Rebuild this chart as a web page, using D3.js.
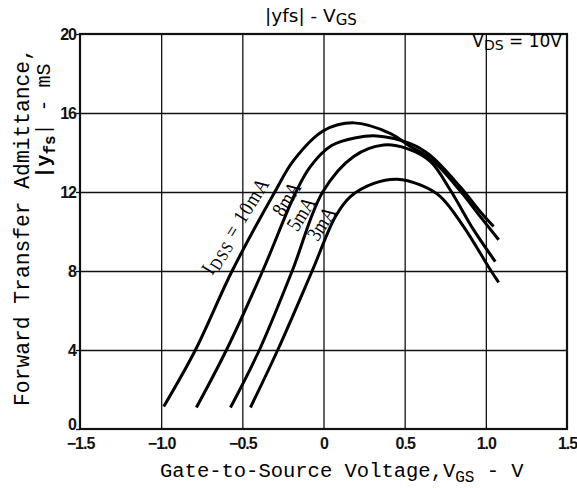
<!DOCTYPE html>
<html>
<head>
<meta charset="utf-8">
<script src="https://cdn.jsdelivr.net/npm/d3@7"></script>
<style>
  body { margin: 0; background: #fff; }
  svg { display: block; }
  .grid line { stroke: #111; stroke-width: 1.3; }
  .grid path { display: none; }
  .ticks path { display: none; }
  .ticks line { stroke: #111; stroke-width: 1.3; }
  .ticks text { font-family: "Liberation Sans", sans-serif; font-weight: bold; font-size: 16px; fill: #111; letter-spacing: -1px; }
</style>
</head>
<body>
<div id="chart"></div>
<script>
// valores dos eixos
const xTicks = [-1.5, -1.0, -0.5, 0, 0.5, 1.0, 1.5];
const xTickLabels = ["\u22121.5", "\u22121.0", "\u22120.5", "0", "0.5", "1.0", "1.5"];
const yTicks = [0, 4, 8, 12, 16, 20];
const curveNames = ["10mA", "8mA", "5mA", "3mA"];

// [VGS (V), |yfs| (mS)]
const idss10 = [[-0.984, 1.14], [-0.789, 4.0], [-0.563, 8.0], [-0.30, 12.0], [-0.184, 13.6], [0, 15.1], [0.186, 15.5], [0.41, 14.97], [0.535, 14.3], [0.658, 13.7], [0.843, 12.05], [0.966, 10.75], [1.079, 9.58]];
const idss8 = [[-0.783, 1.09], [-0.598, 4.0], [-0.375, 8.0], [-0.17, 12.0], [-0.08, 13.3], [0.05, 14.35], [0.2, 14.75], [0.33, 14.84], [0.535, 14.45], [0.658, 13.85], [0.843, 12.25], [0.966, 11.0], [1.048, 10.25]];
const idss5 = [[-0.573, 1.09], [-0.395, 4.0], [-0.193, 8.0], [-0.005, 12.0], [0.186, 13.8], [0.37, 14.38], [0.515, 14.2], [0.658, 13.55], [0.781, 12.1], [0.925, 10.08], [1.058, 8.48]];
const idss3 = [[-0.45, 1.09], [-0.282, 4.0], [-0.07, 8.0], [0.073, 10.75], [0.166, 11.77], [0.31, 12.44], [0.453, 12.65], [0.596, 12.36], [0.72, 11.77], [0.863, 10.25], [1.028, 8.06], [1.079, 7.42]];

const curves = [idss10, idss8, idss5, idss3];

const W = 577, H = 488;
const margin = { top: 34, right: 10, bottom: 59, left: 80 };
const width = W - margin.left - margin.right;
const height = H - margin.top - margin.bottom;

const svg = d3.select("#chart").append("svg")
    .attr("width", W)
    .attr("height", H);

const g = svg.append("g")
    .attr("transform", `translate(${margin.left},${margin.top})`);

const x = d3.scaleLinear().domain([-1.5, 1.5]).range([0, width]);
const y = d3.scaleLinear().domain([0, 20]).range([height, 0]);

// grade
g.append("g")
    .attr("class", "grid")
    .attr("transform", `translate(0,${height})`)
    .call(d3.axisBottom(x).tickValues(xTicks.slice(1, -1)).tickSize(-height).tickFormat(""));

g.append("g")
    .attr("class", "grid")
    .call(d3.axisLeft(y).tickValues(yTicks.slice(1, -1)).tickSize(-width).tickFormat(""));

// eixos
g.append("g")
    .attr("class", "ticks")
    .attr("transform", `translate(0,${height})`)
    .call(d3.axisBottom(x).tickValues(xTicks).tickSize(0).tickPadding(9)
        .tickFormat((d, i) => xTickLabels[i]));

const yAxis = g.append("g")
    .attr("class", "ticks")
    .call(d3.axisLeft(y).tickValues(yTicks).tickSize(4).tickPadding(0));
// o "0" fica um pouco acima da linha
yAxis.selectAll("text").filter(d => d === 0).attr("dy", "0.05em");

// moldura
g.append("rect")
    .attr("width", width)
    .attr("height", height)
    .attr("fill", "none")
    .attr("stroke", "#111")
    .attr("stroke-width", 2.2);

// curvas
const line = d3.line()
    .x(d => x(d[0]))
    .y(d => y(d[1]))
    .curve(d3.curveCatmullRom.alpha(0.5));

g.selectAll(".curve")
    .data(curves)
    .join("path")
    .attr("class", "curve")
    .attr("d", line)
    .attr("fill", "none")
    .attr("stroke", "#000")
    .attr("stroke-width", 3);

// rótulos das curvas
const labelPos = [[-0.685, 7.75], [-0.25, 10.7], [-0.16, 9.95], [-0.035, 9.45]];
const labelFont = '"Liberation Serif", serif';

curveNames.forEach((name, i) => {
    const t = g.append("text")
        .attr("transform", `translate(${x(labelPos[i][0])},${y(labelPos[i][1])}) rotate(-58) scale(0.85,1)`)
        .attr("font-family", labelFont)
        .attr("font-size", 21)
        .attr("fill", "#000");
    if (i === 0) {
        t.attr("letter-spacing", 1.5);
        t.append("tspan").text("I");
        t.append("tspan").attr("font-size", 17).attr("dy", 3).text("DSS");
        t.append("tspan").attr("dy", -3).text(" = " + name);
    } else {
        t.text(name);
    }
});

// título
const title = svg.append("text")
    .attr("x", 311)
    .attr("y", 22)
    .attr("text-anchor", "middle")
    .attr("font-family", '"DejaVu Sans", sans-serif')
    .attr("font-size", 18.5)
    .attr("fill", "#000");
title.append("tspan").text("|yfs| - V");
title.append("tspan").attr("font-size", 15).attr("dy", 3).text("GS");

// condição
const cond = svg.append("text")
    .attr("x", 562)
    .attr("y", 47)
    .attr("text-anchor", "end")
    .attr("font-family", '"DejaVu Sans", sans-serif')
    .attr("font-size", 17)
    .attr("fill", "#000");
cond.append("tspan").text("V");
cond.append("tspan").attr("font-size", 14).attr("dy", 3).text("DS");
cond.append("tspan").attr("dy", -3).text(" = 10V");

// títulos dos eixos
const mono = '"Liberation Mono", monospace';

const xl = svg.append("text")
    .attr("x", 160)
    .attr("y", 477)
    .attr("font-family", mono)
    .attr("font-size", 20.5)
    .attr("fill", "#000");
xl.append("tspan").text("Gate-to-Source Voltage,V");
xl.append("tspan").attr("font-size", 16).attr("dy", 5).text("GS");
xl.append("tspan").attr("dy", -5).text(" - V");

svg.append("text")
    .attr("transform", "translate(29,227) rotate(-90)")
    .attr("text-anchor", "middle")
    .attr("font-family", mono)
    .attr("font-size", 21.3)
    .attr("fill", "#000")
    .text("Forward Transfer Admittance,");

const yl2 = svg.append("text")
    .attr("transform", "translate(50,121) rotate(-90)")
    .attr("text-anchor", "middle")
    .attr("font-family", mono)
    .attr("font-size", 20)
    .attr("font-weight", "bold")
    .attr("fill", "#000");
yl2.append("tspan").text("|y");
yl2.append("tspan").attr("font-size", 16).attr("dy", 5).text("fs");
yl2.append("tspan").attr("dy", -5).attr("font-weight", "normal").text("| - mS");
</script>
</body>
</html>
